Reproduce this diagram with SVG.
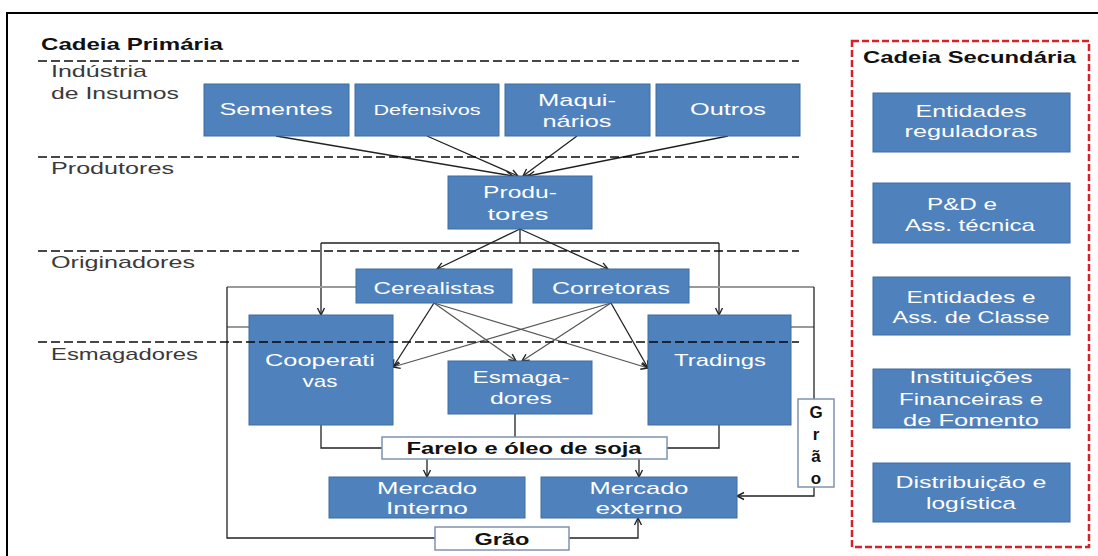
<svg xmlns="http://www.w3.org/2000/svg" width="1098" height="556" viewBox="0 0 1098 556">
<style>
.bx{fill:#4f81bd;stroke:#3f6d9f;stroke-width:1}
.wb{fill:#fff;stroke:#7f93ad;stroke-width:1.5}
.t{font-family:"Liberation Sans","Open Sans",sans-serif;font-size:17px;fill:#fff;text-anchor:middle}
.lbl{font-family:"Liberation Sans","Open Sans",sans-serif;font-size:17px;fill:#3a3a3a}
.bold{font-family:"Liberation Sans","Open Sans",sans-serif;font-size:17px;font-weight:bold;fill:#111}
.dash{stroke:#000;stroke-opacity:0.72;stroke-width:2;stroke-dasharray:9 4;fill:none}
.c{fill:none;stroke:#222;stroke-width:1.3}
.cg{fill:none;stroke:#555;stroke-width:1.2}
.g{fill:none;stroke:#9a9a9a;stroke-width:2}
</style>
<defs>
<marker id="ah" viewBox="0 0 10 10" markerUnits="userSpaceOnUse" markerWidth="10" markerHeight="10" refX="8" refY="5" orient="auto">
<path d="M1,1.5 L8,5 L1,8.5" fill="none" stroke="#222" stroke-width="1.4"/>
</marker>
</defs>
<rect width="1098" height="556" fill="#fff"/>
<path d="M7,556 V13 H1098" fill="none" stroke="#000" stroke-width="2"/>

<g id="labels">
<text class="bold" x="41" y="50" textLength="182" lengthAdjust="spacingAndGlyphs">Cadeia Primária</text>
<text class="lbl" x="51" y="77" textLength="96" lengthAdjust="spacingAndGlyphs">Indústria</text>
<text class="lbl" x="51" y="99" textLength="128" lengthAdjust="spacingAndGlyphs">de Insumos</text>
<text class="lbl" x="51" y="174" textLength="123" lengthAdjust="spacingAndGlyphs">Produtores</text>
<text class="lbl" x="51" y="268" textLength="144" lengthAdjust="spacingAndGlyphs">Originadores</text>
<text class="lbl" x="51" y="360" textLength="147" lengthAdjust="spacingAndGlyphs">Esmagadores</text>
</g>

<g id="connectors">
<line class="c" x1="276" y1="136" x2="513" y2="176" marker-end="url(#ah)"/>
<line class="c" x1="427" y1="136" x2="518" y2="176" marker-end="url(#ah)"/>
<line class="c" x1="577" y1="136" x2="523" y2="176" marker-end="url(#ah)"/>
<line class="c" x1="728" y1="136" x2="528" y2="176" marker-end="url(#ah)"/>
<line class="c" x1="520" y1="229" x2="437" y2="269" marker-end="url(#ah)"/>
<line class="c" x1="520" y1="229" x2="608" y2="269" marker-end="url(#ah)"/>
<path class="c" d="M520,229 V243 M321,243 H719"/>
<path class="c" d="M321,243 V315" marker-end="url(#ah)"/>
<path class="c" d="M719,243 V315" marker-end="url(#ah)"/>
<line class="c" x1="434" y1="303" x2="393" y2="367" marker-end="url(#ah)"/>
<line class="cg" x1="434" y1="303" x2="516" y2="361" marker-end="url(#ah)"/>
<line class="cg" x1="434" y1="303" x2="648" y2="368" marker-end="url(#ah)"/>
<line class="cg" x1="611" y1="303" x2="393" y2="367" marker-end="url(#ah)"/>
<line class="cg" x1="611" y1="303" x2="522" y2="361" marker-end="url(#ah)"/>
<line class="c" x1="611" y1="303" x2="648" y2="368" marker-end="url(#ah)"/>
<path class="g" d="M356,287 H227 M249,327 H227 M689,287 H814 M791,327 H814"/>
<path class="c" d="M227,287 V538 H435"/>
<path class="c" d="M569,538 H638 V518" marker-end="url(#ah)"/>
<path class="c" d="M814,287 V399"/>
<path class="c" d="M814,487 V496 H737" marker-end="url(#ah)"/>
<path class="c" d="M321,425 V448 H382 M515,414 V437 M719,425 V448 H667"/>
<path class="c" d="M427,459 V477" marker-end="url(#ah)"/>
<path class="c" d="M639,459 V477" marker-end="url(#ah)"/>
</g>

<g id="sementes"><rect class="bx" x="204" y="84" width="145" height="52"/><text class="t" x="276" y="115" textLength="113" lengthAdjust="spacingAndGlyphs">Sementes</text></g>
<g id="defensivos"><rect class="bx" x="355" y="84" width="144" height="52"/><text class="t" x="427" y="115" style="font-size:15px" textLength="107" lengthAdjust="spacingAndGlyphs">Defensivos</text></g>
<g id="maquinarios"><rect class="bx" x="505" y="84" width="145" height="52"/><text class="t" x="577" y="106" textLength="78" lengthAdjust="spacingAndGlyphs">Maqui-</text><text class="t" x="577" y="127" textLength="69" lengthAdjust="spacingAndGlyphs">nários</text></g>
<g id="outros"><rect class="bx" x="656" y="84" width="144" height="52"/><text class="t" x="728" y="115" textLength="76" lengthAdjust="spacingAndGlyphs">Outros</text></g>

<g id="produtores"><rect class="bx" x="448" y="176" width="144" height="53"/><text class="t" x="520" y="198" textLength="74" lengthAdjust="spacingAndGlyphs">Produ-</text><text class="t" x="518" y="220" textLength="61" lengthAdjust="spacingAndGlyphs">tores</text></g>

<g id="cerealistas"><rect class="bx" x="356" y="269" width="156" height="34"/><text class="t" x="434" y="294" textLength="121" lengthAdjust="spacingAndGlyphs">Cerealistas</text></g>
<g id="corretoras"><rect class="bx" x="533" y="269" width="156" height="34"/><text class="t" x="611" y="294" textLength="118" lengthAdjust="spacingAndGlyphs">Corretoras</text></g>

<g id="cooperativas"><rect class="bx" x="249" y="315" width="144" height="110"/><text class="t" x="320" y="366" textLength="110" lengthAdjust="spacingAndGlyphs">Cooperati</text><text class="t" x="320" y="387" textLength="35" lengthAdjust="spacingAndGlyphs">vas</text></g>
<g id="esmagadores"><rect class="bx" x="448" y="361" width="144" height="53"/><text class="t" x="521" y="383" textLength="97" lengthAdjust="spacingAndGlyphs">Esmaga-</text><text class="t" x="521" y="404" textLength="62" lengthAdjust="spacingAndGlyphs">dores</text></g>
<g id="tradings"><rect class="bx" x="648" y="315" width="143" height="110"/><text class="t" x="720" y="366" textLength="92" lengthAdjust="spacingAndGlyphs">Tradings</text></g>

<g id="farelo"><rect class="wb" x="382" y="437" width="285" height="22"/><text class="bold" x="524" y="454" text-anchor="middle" textLength="235" lengthAdjust="spacingAndGlyphs">Farelo e óleo de soja</text></g>
<g id="mercado-interno"><rect class="bx" x="329" y="477" width="196" height="41"/><text class="t" x="427" y="494" textLength="100" lengthAdjust="spacingAndGlyphs">Mercado</text><text class="t" x="427" y="514" textLength="82" lengthAdjust="spacingAndGlyphs">Interno</text></g>
<g id="mercado-externo"><rect class="bx" x="541" y="477" width="196" height="41"/><text class="t" x="639" y="494" textLength="99" lengthAdjust="spacingAndGlyphs">Mercado</text><text class="t" x="639" y="514" textLength="87" lengthAdjust="spacingAndGlyphs">externo</text></g>
<g id="grao-h"><rect class="wb" x="435" y="527" width="134" height="23"/><text class="bold" x="502" y="545" text-anchor="middle" textLength="55" lengthAdjust="spacingAndGlyphs">Grão</text></g>
<g id="grao-v"><rect class="wb" x="798" y="399" width="36" height="88"/>
<text class="bold" x="816" y="418" text-anchor="middle">G</text>
<text class="bold" x="816" y="440" text-anchor="middle">r</text>
<text class="bold" x="816" y="462" text-anchor="middle">ã</text>
<text class="bold" x="816" y="484" text-anchor="middle">o</text></g>

<g id="dashed-levels">
<path class="dash" d="M38,61 H799 M38,157 H799 M38,251 H799 M38,342 H799"/>
</g>

<g id="cadeia-secundaria">
<rect x="852" y="41" width="237" height="506" fill="none" stroke="#d9202a" stroke-width="2.5" stroke-dasharray="7 3"/>
<text class="bold" x="863" y="63" textLength="213" lengthAdjust="spacingAndGlyphs">Cadeia Secundária</text>
</g>
<g id="entidades-reguladoras"><rect class="bx" x="873" y="93" width="197" height="59"/><text class="t" x="971" y="117" textLength="111" lengthAdjust="spacingAndGlyphs">Entidades</text><text class="t" x="971" y="137" textLength="133" lengthAdjust="spacingAndGlyphs">reguladoras</text></g>
<g id="pd"><rect class="bx" x="873" y="183" width="197" height="60"/><text class="t" x="962" y="210" textLength="70" lengthAdjust="spacingAndGlyphs">P&amp;D e</text><text class="t" x="970" y="231" textLength="130" lengthAdjust="spacingAndGlyphs">Ass. técnica</text></g>
<g id="entidades-classe"><rect class="bx" x="873" y="277" width="197" height="58"/><text class="t" x="971" y="303" textLength="129" lengthAdjust="spacingAndGlyphs">Entidades e</text><text class="t" x="971" y="323" textLength="157" lengthAdjust="spacingAndGlyphs">Ass. de Classe</text></g>
<g id="instituicoes"><rect class="bx" x="873" y="369" width="197" height="59"/><text class="t" x="971" y="383" textLength="123" lengthAdjust="spacingAndGlyphs">Instituições</text><text class="t" x="971" y="405" textLength="144" lengthAdjust="spacingAndGlyphs">Financeiras e</text><text class="t" x="971" y="426" textLength="136" lengthAdjust="spacingAndGlyphs">de Fomento</text></g>
<g id="distribuicao"><rect class="bx" x="873" y="463" width="197" height="59"/><text class="t" x="971" y="488" textLength="151" lengthAdjust="spacingAndGlyphs">Distribuição e</text><text class="t" x="971" y="509" textLength="90" lengthAdjust="spacingAndGlyphs">logística</text></g>
</svg>
